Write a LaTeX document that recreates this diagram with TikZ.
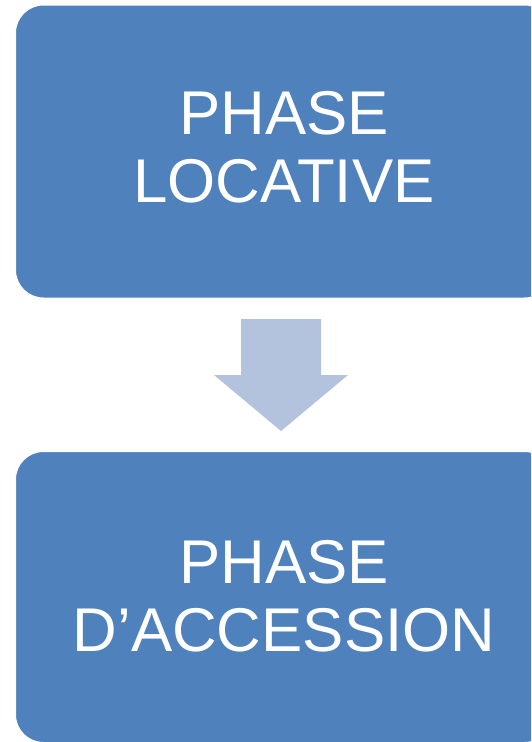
\documentclass[tikz,border=0pt]{standalone}
\usepackage{fontspec}
\setmainfont{Liberation Sans}
\usetikzlibrary{calc}
\definecolor{boxblue}{RGB}{79,129,189}
\definecolor{arrowblue}{RGB}{179,195,222}
\begin{document}
\begin{tikzpicture}[x=1pt,y=-1pt,
  phasebox/.style={fill=boxblue, draw=white, line width=1pt,
    rounded corners=28pt, minimum width=537pt, minimum height=293pt,
    text=white, align=center, inner sep=0pt, text depth=9pt,
    font=\fontsize{61.8}{68}\selectfont},
  flowarrow/.style={fill=arrowblue, draw=none}]
\useasboundingbox (0,0) rectangle (531,742);
\clip (0,0) rectangle (531,742);
% the two phases
\node[phasebox] (locative) at (284,151.5) {PHASE\\LOCATIVE};
\node[phasebox, minimum height=291pt, text depth=3pt] (accession) at (284,597) {PHASE\\D’ACCESSION};
% block arrow between them
\coordinate (atop) at (281,319);
\coordinate (atip) at (281,431);
\fill[flowarrow] ($(atop)+(-40,0)$) -- ($(atop)+(40,0)$) -- ($(atop)+(40,56)$)
  -- ($(atop)+(67,56)$) -- (atip) -- ($(atop)+(-67,56)$) -- ($(atop)+(-40,56)$) -- cycle;
\end{tikzpicture}
\end{document}
